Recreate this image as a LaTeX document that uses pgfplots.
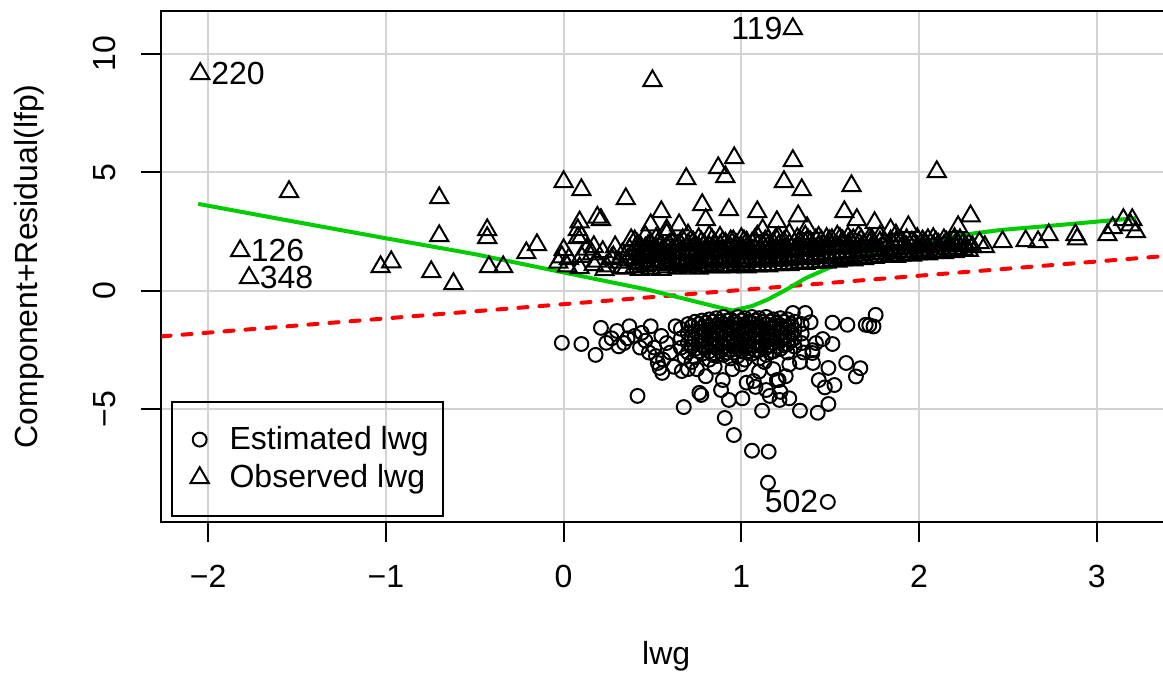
\documentclass[border=0pt]{standalone}
\usepackage{fontspec}
\setmainfont{Liberation Sans}
\usepackage{pgfplots}
\pgfplotsset{compat=1.18}
\definecolor{rgreen}{HTML}{00CD00}
\definecolor{rgrid}{HTML}{D3D3D3}
\pgfplotsset{myleg/.style={legend image code/.code={\draw[##1] plot coordinates {(0pt,0pt)}; \path[draw=none] (-4.9pt,0pt) (4.9pt,0pt);}}}
\begin{document}
\begin{tikzpicture}[font=\fontsize{12}{14.4}\selectfont]
\begin{axis}[
  scale only axis, width=378.6pt, height=191.5pt,
  xmin=-2.263, xmax=3.418, ymin=-9.73, ymax=11.81,
  xtick={-2,-1,0,1,2,3}, xticklabels={−2,−1,0,1,2,3},
  ytick={-5,0,5,10}, yticklabels={−5,0,5,10},
  tick pos=left, tick align=outside, major tick length=7.5pt,
  tick style={black, line width=0.75pt},
  axis line style={line width=0.75pt},
  grid=major, grid style={rgrid, line width=0.75pt},
  xticklabel style={anchor=base, inner sep=0pt},
  xticklabel shift=17.2pt,
  yticklabel style={rotate=90, anchor=base, inner sep=0pt},
  yticklabel shift=9.8pt,
  xlabel={lwg}, ylabel={Component+Residual(lfp)},
  every axis x label/.style={at={([yshift=-53.6pt]axis description cs:0.5,0)}, anchor=base, inner sep=0pt},
  every axis y label/.style={at={([xshift=-46.5pt]axis description cs:0,0.5)}, rotate=90, anchor=base, inner sep=0pt},
  legend style={at={([xshift=3.56pt,yshift=1.76pt]axis description cs:0,0)}, anchor=south west, draw=black, line width=0.75pt, fill=none, inner xsep=5.5pt, inner ysep=8.2pt, row sep=2.1pt, column sep=6.3pt, nodes={inner xsep=0pt, inner ysep=1pt}},
  legend cell align=left,
]
% Estimated lwg (circles)
\addplot[only marks, mark=o, mark size=2.6pt, mark options={black, line width=0.75pt}, myleg] coordinates {
(-0.01,-2.19)(0.10,-2.24)(0.18,-2.70)(0.21,-1.56)(0.24,-2.19)(0.30,-1.69)(0.31,-2.34)(0.37,-1.49)(0.44,-1.77)(0.49,-1.49)
(0.43,-2.39)(0.51,-2.39)(0.54,-3.25)(0.555,-3.46)(0.53,-3.04)(0.63,-1.49)(0.665,-3.38)(0.70,-3.30)(0.764,-4.30)(0.775,-4.39)
(0.896,-3.76)(0.886,-4.18)(0.93,-4.60)(1.006,-4.53)(1.03,-3.87)(1.07,-3.80)(1.16,-4.43)(1.215,-4.60)(1.27,-4.53)(1.20,-3.76)
(1.403,-3.04)(1.436,-3.76)(1.33,-3.00)(1.27,-3.10)(0.416,-4.43)(0.676,-4.90)(1.117,-5.05)(1.33,-5.05)(1.43,-5.14)(1.49,-4.77)
(1.524,-3.97)(1.47,-4.07)(1.645,-3.61)(1.67,-3.26)(1.59,-3.04)(1.513,-2.24)(1.458,-2.03)(1.39,-1.32)(1.513,-1.34)(1.597,-1.43)
(1.70,-1.43)(1.756,-1.01)(1.744,-1.50)(1.72,-1.45)(1.36,-0.93)(1.29,-0.93)(0.907,-5.36)(0.958,-6.08)(1.06,-6.74)(1.154,-6.78)
(1.15,-8.09)(1.487,-8.90)
(0.27,-2.0)(0.34,-2.2)(0.40,-1.9)(0.46,-2.1)(0.55,-1.9)(0.58,-2.2)(0.60,-2.6)(0.52,-2.75)(0.56,-2.9)(0.36,-2.0)(0.48,-2.6)
(0.80,-3.6)(0.85,-3.2)(0.95,-3.3)(1.00,-3.1)(1.10,-3.4)(1.13,-3.0)(1.18,-3.3)(0.75,-3.3)(0.72,-3.0)(0.68,-2.8)(0.62,-3.2)
(1.25,-3.6)(1.35,-2.6)(1.40,-2.5)(1.42,-2.2)(1.40,-2.62)(1.49,-3.25)(1.22,-4.26)(1.14,-4.18)(1.21,-3.76)(1.08,-4.05)
(0.66,-1.6)(0.66,-2.0)(0.66,-2.4)
(0.70,-1.4)(0.70,-1.8)(0.70,-2.2)(0.70,-2.6)
(0.74,-1.3)(0.74,-1.7)(0.74,-2.05)(0.74,-2.45)(0.74,-2.8)
(0.78,-1.25)(0.78,-1.55)(0.78,-1.9)(0.78,-2.3)(0.78,-2.65)
(0.82,-1.2)(0.82,-1.5)(0.82,-1.85)(0.82,-2.2)(0.82,-2.55)(0.82,-2.9)
(0.86,-1.15)(0.86,-1.45)(0.86,-1.75)(0.86,-2.1)(0.86,-2.4)(0.86,-2.75)
(0.90,-1.1)(0.90,-1.4)(0.90,-1.7)(0.90,-2.0)(0.90,-2.35)(0.90,-2.7)
(0.94,-1.2)(0.94,-1.5)(0.94,-1.8)(0.94,-2.15)(0.94,-2.5)(0.94,-2.85)
(0.98,-1.1)(0.98,-1.4)(0.98,-1.7)(0.98,-2.05)(0.98,-2.4)(0.98,-2.75)
(1.02,-1.15)(1.02,-1.45)(1.02,-1.8)(1.02,-2.1)(1.02,-2.45)(1.02,-2.9)
(1.06,-1.1)(1.06,-1.35)(1.06,-1.65)(1.06,-2.0)(1.06,-2.3)(1.06,-2.65)
(1.10,-1.15)(1.10,-1.5)(1.10,-1.8)(1.10,-2.15)(1.10,-2.5)(1.10,-2.85)
(1.14,-1.1)(1.14,-1.4)(1.14,-1.7)(1.14,-2.05)(1.14,-2.4)(1.14,-2.7)
(1.18,-1.2)(1.18,-1.5)(1.18,-1.85)(1.18,-2.2)(1.18,-2.55)
(1.22,-1.15)(1.22,-1.45)(1.22,-1.75)(1.22,-2.1)(1.22,-2.45)
(1.26,-1.2)(1.26,-1.55)(1.26,-1.9)(1.26,-2.25)(1.26,-2.6)
(1.30,-1.3)(1.30,-1.65)(1.30,-2.0)(1.30,-2.35)
(1.34,-1.4)(1.34,-1.8)(1.34,-2.2)
(0.72,-1.5)(0.72,-1.95)(0.72,-2.35)
(0.76,-1.4)(0.76,-1.75)(0.76,-2.15)(0.76,-2.55)
(0.80,-1.35)(0.80,-1.7)(0.80,-2.05)(0.80,-2.4)
(0.84,-1.3)(0.84,-1.65)(0.84,-2.0)(0.84,-2.3)(0.84,-2.7)
(0.88,-1.3)(0.88,-1.6)(0.88,-1.9)(0.88,-2.25)(0.88,-2.55)
(0.92,-1.25)(0.92,-1.55)(0.92,-1.85)(0.92,-2.2)(0.92,-2.6)
(0.96,-1.3)(0.96,-1.6)(0.96,-1.95)(0.96,-2.3)(0.96,-2.6)
(1.00,-1.25)(1.00,-1.55)(1.00,-1.9)(1.00,-2.25)(1.00,-2.55)
(1.04,-1.3)(1.04,-1.6)(1.04,-1.95)(1.04,-2.25)(1.04,-2.55)
(1.08,-1.25)(1.08,-1.55)(1.08,-1.9)(1.08,-2.2)(1.08,-2.5)
(1.12,-1.3)(1.12,-1.6)(1.12,-1.95)(1.12,-2.3)
(1.16,-1.3)(1.16,-1.6)(1.16,-1.95)(1.16,-2.3)(1.16,-2.6)
(1.20,-1.35)(1.20,-1.65)(1.20,-2.0)(1.20,-2.35)
(1.24,-1.3)(1.24,-1.6)(1.24,-2.0)(1.24,-2.3)
(1.28,-1.4)(1.28,-1.75)(1.28,-2.1)
};
\addlegendentry{Estimated lwg}
% Observed lwg (triangles)
\addplot[only marks, mark=triangle, mark size=3.95pt, mark options={black, line width=0.75pt}, myleg] coordinates {
(-2.045,9.16)(1.29,11.05)(0.50,8.86)(-1.545,4.18)(-1.82,1.69)(-1.77,0.55)(-1.03,1.01)(-0.97,1.22)(-0.70,3.92)(-0.70,2.32)
(-0.745,0.80)(-0.62,0.30)(-0.43,2.57)(-0.43,2.24)(-0.42,1.01)(-0.34,1.01)(-0.21,1.60)(-0.15,1.94)(0.00,4.60)(0.10,4.26)
(0.35,3.88)(0.69,4.73)(0.87,5.19)(0.96,5.61)(0.91,4.81)(0.78,3.63)(0.93,3.42)(1.09,3.33)(0.55,3.33)(0.80,3.00)
(0.65,2.78)(0.49,2.78)(0.09,2.90)(0.21,3.00)(0.19,3.10)(0.38,2.15)(0.10,2.28)(0.17,1.86)(0.00,1.73)(-0.01,1.43)
(0.09,0.97)(0.17,1.10)(0.23,0.89)(0.33,0.97)(0.28,1.43)(0.58,2.57)(0.08,2.57)(0.08,2.24)(-0.03,1.2)(0.02,1.05)
(1.29,5.49)(1.24,4.60)(1.34,4.26)(1.62,4.43)(1.32,3.16)(1.58,3.33)(1.20,2.91)(1.65,3.00)(1.75,2.87)(1.94,2.70)
(2.10,5.02)(1.12,2.57)(1.37,2.66)(1.84,2.57)(2.29,3.16)(2.22,2.70)(2.47,2.07)(2.60,2.11)(2.67,2.07)(2.73,2.36)
(2.88,2.36)(2.89,2.19)(3.06,2.36)(3.09,2.66)(3.15,3.00)(3.20,3.00)(3.22,2.49)(3.19,2.78)(2.34,2.03)(2.37,1.86)
(2.30,1.86)(2.23,2.15)
(0.03,1.35)(0.10,1.45)(0.13,1.75)(0.16,1.55)(0.19,1.25)(0.22,1.65)(0.24,1.05)(0.27,1.35)(0.29,1.85)(0.31,1.2)
(0.33,1.55)(0.35,0.95)(0.36,1.3)(0.37,1.75)
(0.40,1.0)(0.40,1.35)(0.40,1.7)(0.40,2.1)
(0.43,0.9)(0.43,1.2)(0.43,1.55)(0.43,1.9)
(0.46,1.05)(0.46,1.4)(0.46,1.8)(0.46,2.3)
(0.49,0.95)(0.49,1.25)(0.49,1.6)(0.49,2.0)
(0.52,1.1)(0.52,1.45)(0.52,1.75)(0.52,2.2)
(0.55,0.9)(0.55,1.3)(0.55,1.65)(0.55,1.95)
(0.58,1.0)(0.58,1.2)(0.58,1.5)(0.58,1.85)(0.58,2.4)
(0.61,1.1)(0.61,1.4)(0.61,1.7)(0.61,2.05)
(0.64,0.95)(0.64,1.25)(0.64,1.55)(0.64,1.9)
(0.67,1.05)(0.67,1.35)(0.67,1.65)(0.67,2.15)
(0.70,1.0)(0.70,1.3)(0.70,1.6)(0.70,1.95)(0.70,2.35)
(0.73,1.1)(0.73,1.45)(0.73,1.75)(0.73,2.05)
(0.76,0.95)(0.76,1.2)(0.76,1.5)(0.76,1.8)(0.76,2.2)
(0.79,1.05)(0.79,1.35)(0.79,1.65)(0.79,1.95)
(0.82,1.0)(0.82,1.25)(0.82,1.55)(0.82,1.85)(0.82,2.3)
(0.85,1.1)(0.85,1.4)(0.85,1.7)(0.85,2.0)
(0.88,1.0)(0.88,1.3)(0.88,1.6)(0.88,1.9)(0.88,2.25)
(0.91,1.05)(0.91,1.35)(0.91,1.65)(0.91,2.0)
(0.94,1.0)(0.94,1.2)(0.94,1.5)(0.94,1.8)(0.94,2.1)
(0.97,1.1)(0.97,1.4)(0.97,1.7)(0.97,1.95)
(1.00,1.05)(1.00,1.3)(1.00,1.6)(1.00,1.85)(1.00,2.2)
(1.03,1.0)(1.03,1.25)(1.03,1.55)(1.03,1.8)(1.03,2.05)
(1.06,1.1)(1.06,1.4)(1.06,1.7)(1.06,2.0)
(1.09,1.05)(1.09,1.3)(1.09,1.6)(1.09,1.9)(1.09,2.3)
(1.12,1.1)(1.12,1.35)(1.12,1.65)(1.12,1.95)
(1.15,1.05)(1.15,1.3)(1.15,1.55)(1.15,1.85)(1.15,2.15)
(1.18,1.1)(1.18,1.4)(1.18,1.7)(1.18,2.0)
(1.21,1.1)(1.21,1.3)(1.21,1.6)(1.21,1.9)(1.21,2.25)
(1.24,1.15)(1.24,1.45)(1.24,1.75)(1.24,2.05)
(1.27,1.1)(1.27,1.35)(1.27,1.65)(1.27,1.95)(1.27,2.4)
(1.30,1.15)(1.30,1.4)(1.30,1.7)(1.30,2.0)
(1.33,1.2)(1.33,1.5)(1.33,1.8)(1.33,2.1)
(1.36,1.15)(1.36,1.4)(1.36,1.7)(1.36,2.0)(1.36,2.3)
(1.39,1.2)(1.39,1.5)(1.39,1.8)(1.39,2.05)
(1.42,1.2)(1.42,1.45)(1.42,1.75)(1.42,2.15)
(1.45,1.25)(1.45,1.55)(1.45,1.85)(1.45,2.1)
(1.48,1.2)(1.48,1.5)(1.48,1.8)(1.48,2.2)
(1.51,1.3)(1.51,1.6)(1.51,1.9)(1.51,2.15)
(1.54,1.25)(1.54,1.55)(1.54,1.85)(1.54,2.3)
(1.57,1.3)(1.57,1.6)(1.57,1.9)(1.57,2.1)
(1.60,1.35)(1.60,1.65)(1.60,1.95)(1.60,2.25)
(1.63,1.3)(1.63,1.6)(1.63,1.9)(1.63,2.15)
(1.66,1.4)(1.66,1.7)(1.66,2.0)(1.66,2.3)
(1.69,1.35)(1.69,1.65)(1.69,1.95)
(1.72,1.4)(1.72,1.7)(1.72,2.0)(1.72,2.2)
(1.75,1.4)(1.75,1.7)(1.75,1.95)
(1.78,1.45)(1.78,1.75)(1.78,2.05)(1.78,2.3)
(1.81,1.45)(1.81,1.7)(1.81,2.0)
(1.84,1.5)(1.84,1.8)(1.84,2.1)
(1.87,1.45)(1.87,1.75)(1.87,2.05)(1.87,2.35)
(1.90,1.5)(1.90,1.8)(1.90,2.1)
(1.93,1.55)(1.93,1.85)(1.93,2.15)
(1.96,1.5)(1.96,1.8)(1.96,2.05)
(1.99,1.55)(1.99,1.85)(1.99,2.2)
(2.02,1.6)(2.02,1.9)(2.02,2.1)
(2.05,1.55)(2.05,1.85)(2.05,2.15)
(2.08,1.6)(2.08,1.9)(2.08,2.2)
(2.11,1.65)(2.11,1.95)
(2.14,1.6)(2.14,1.9)(2.14,2.15)
(2.17,1.7)(2.17,1.95)
(2.20,1.65)(2.20,1.9)(2.20,2.2)
(2.25,1.75)(2.25,2.0)
(2.28,1.7)(2.28,1.95)
(0.415,1.15)(0.415,1.55)(0.415,1.95)(0.475,1.1)(0.475,1.5)(0.475,1.9)(0.535,1.2)(0.535,1.6)(0.535,2.05)
(0.595,1.15)(0.595,1.55)(0.595,1.95)(0.655,1.2)(0.655,1.6)(0.655,2.0)(0.715,1.15)(0.715,1.55)(0.715,2.1)
(0.775,1.25)(0.775,1.65)(0.775,2.05)(0.835,1.2)(0.835,1.6)(0.835,2.15)(0.895,1.25)(0.895,1.7)(0.895,2.05)
(0.955,1.25)(0.955,1.65)(0.955,2.1)(1.015,1.2)(1.015,1.7)(1.015,2.1)(1.075,1.3)(1.075,1.75)(1.075,2.15)
(1.135,1.25)(1.135,1.7)(1.135,2.1)(1.195,1.3)(1.195,1.75)(1.195,2.2)(1.255,1.3)(1.255,1.8)(1.255,2.15)
(1.315,1.35)(1.315,1.75)(1.315,2.2)(1.375,1.35)(1.375,1.8)(1.375,2.15)(1.435,1.4)(1.435,1.85)(1.435,2.25)
(1.495,1.4)(1.495,1.8)(1.495,2.1)(1.555,1.45)(1.555,1.85)(1.555,2.2)(1.615,1.45)(1.615,1.8)(1.615,2.1)
(1.675,1.5)(1.675,1.85)(1.675,2.15)(1.735,1.55)(1.735,1.9)(1.735,2.15)(1.795,1.55)(1.795,1.9)
(1.855,1.6)(1.855,1.95)(1.915,1.65)(1.915,1.95)(1.975,1.65)(1.975,2.0)(2.035,1.7)(2.035,2.0)
(2.095,1.75)(2.095,2.05)(2.155,1.8)(2.155,2.05)(2.215,1.8)(2.215,2.05)
};
\addlegendentry{Observed lwg}
% regression line (red dashed)
\addplot[forget plot, red, line width=1.5pt, line cap=round, dash pattern=on 3.4pt off 4.5pt] coordinates {(-2.263,-1.918)(3.418,1.491)};
% smoother (green)
\addplot[forget plot, rgreen, line width=1.5pt, line join=round] coordinates {
(-2.056,3.67)(-1.5,2.90)(-1.0,2.22)(-0.5,1.55)(-0.073,0.89)(0.2,0.47)(0.48,0.04)(0.7,-0.37)(0.85,-0.65)(0.95,-0.83)
(1.06,-0.64)(1.15,-0.36)(1.25,0.04)(1.36,0.53)(1.51,1.03)(1.645,1.38)(1.8,1.66)(2.02,2.08)(2.24,2.36)(2.46,2.57)
(2.79,2.78)(3.22,3.07)};
\node[anchor=west, inner sep=0pt] at ([xshift=4pt]axis cs:-2.045,9.16) {220};
\node[anchor=east, inner sep=0pt] at ([xshift=-3.7pt]axis cs:1.29,11.05) {119};
\node[anchor=west, inner sep=0pt] at ([xshift=3.8pt]axis cs:-1.82,1.69) {126};
\node[anchor=west, inner sep=0pt] at ([xshift=3.8pt]axis cs:-1.77,0.55) {348};
\node[anchor=east, inner sep=0pt] at ([xshift=-3.4pt]axis cs:1.487,-8.90) {502};
\coordinate (SW) at (rel axis cs:0,0);
\coordinate (NE) at (rel axis cs:1,1);
\end{axis}
\pgfresetboundingbox
\path ([xshift=-60.56pt,yshift=-56.7pt]SW) rectangle ([xshift=-3pt,yshift=4.1pt]NE);
\end{tikzpicture}
\end{document}
